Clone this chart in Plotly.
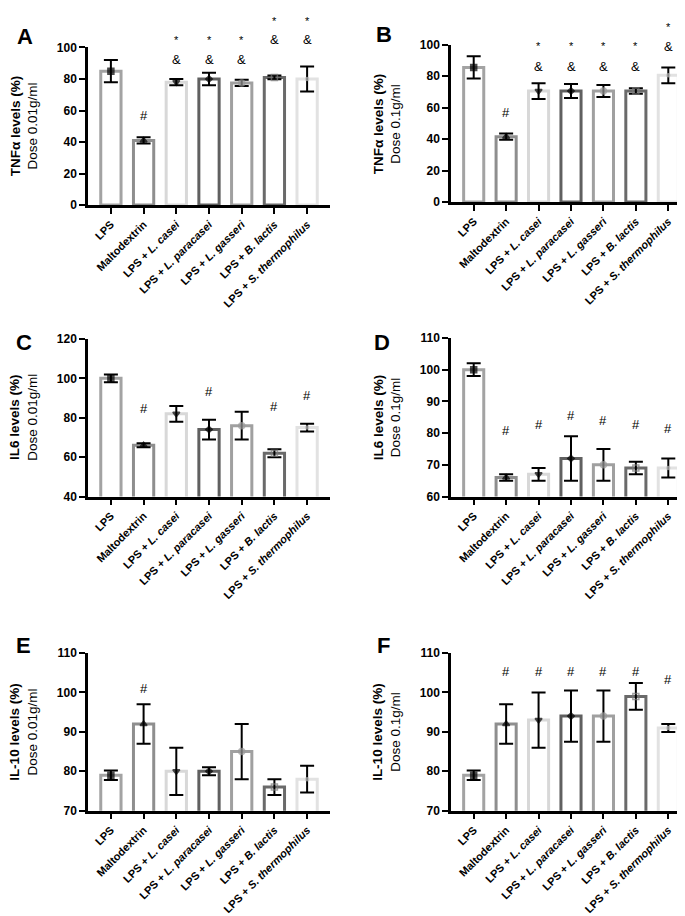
import plotly.graph_objects as go

W, H = 685, 916

categories = ["LPS", "Maltodextrin", "LPS + <i>L. casei</i>", "LPS + <i>L. paracasei</i>",
              "LPS + <i>L. gasseri</i>", "LPS + <i>B. lactis</i>", "LPS + <i>S. thermophilus</i>"]

# panel values (mean, error)
tnf_001 = [85, 41, 78, 80, 77.5, 81, 80]
tnf_001_err = [7, 2, 2, 4, 2, 1.2, 8]
tnf_01 = [85.5, 41.5, 70.5, 70.5, 70.5, 70.5, 80.5]
tnf_01_err = [7, 2, 5, 4.5, 3.8, 1.7, 5]
il6_001 = [100, 66, 82, 74, 76, 62, 75]
il6_001_err = [2, 1, 4, 5, 7, 2, 2]
il6_01 = [100, 66, 67, 72, 70, 69, 69]
il6_01_err = [2, 1, 2, 7, 5, 2, 3]
il10_001 = [79, 92, 80, 80, 85, 76, 78]
il10_001_err = [1.2, 5, 6, 1, 7, 2, 3.4]
il10_01 = [79, 92, 93, 94, 94, 99, 91]
il10_01_err = [1.2, 5, 7, 6.5, 6.5, 3.4, 1]

# significance marks: (category index, y value, text)
sig_A = [(1, 57, "#"), (2, 105, "*"), (2, 92.5, "&"), (3, 105, "*"), (3, 92.5, "&"),
         (4, 105, "*"), (4, 92.5, "&"), (5, 117, "*"), (5, 105, "&"), (6, 117, "*"), (6, 105, "&")]
sig_B = [(1, 57, "#"), (2, 99, "*"), (2, 86, "&"), (3, 99, "*"), (3, 86, "&"),
         (4, 99, "*"), (4, 86, "&"), (5, 99, "*"), (5, 86, "&"), (6, 111, "*"), (6, 98.5, "&")]
sig_C = [(1, 84.5, "#"), (3, 93.5, "#"), (5, 85.5, "#"), (6, 91.5, "#")]
sig_D = [(1, 80.9, "#"), (2, 82.7, "#"), (3, 85.5, "#"), (4, 84, "#"), (5, 82.7, "#"), (6, 81.5, "#")]
sig_E = [(1, 101, "#")]
sig_F = [(1, 105.3, "#"), (2, 105.3, "#"), (3, 105.3, "#"), (4, 105.3, "#"), (5, 105.3, "#"), (6, 103.2, "#")]

bar_colors = ["#a3a3a3", "#8e8e8e", "#d8d8d8", "#606060", "#a0a0a0", "#6a6a6a", "#e2e2e2"]
mk_symbols = ["square", "triangle-up", "triangle-down", "diamond", "circle", "square-open", "circle"]
mk_colors = ["black", "black", "black", "black", "#9a9a9a", "#7a7a7a", "#bdbdbd"]
mk_sizes = [6, 6, 6, 5, 6, 6, 3]

panels = [
    dict(letter="A", vals=tnf_001, err=tnf_001_err, sig=sig_A, rng=[0, 100], dtick=20,
         title="<b>TNFα levels (%)</b><br>Dose 0.01g/ml", px=(80, 322), py=(33, 193), lpos=(17, 22)),
    dict(letter="B", vals=tnf_01, err=tnf_01_err, sig=sig_B, rng=[0, 100], dtick=20,
         title="<b>TNFα levels (%)</b><br>Dose 0.1g/ml", px=(443, 683), py=(30, 190), lpos=(376, 20)),
    dict(letter="C", vals=il6_001, err=il6_001_err, sig=sig_C, rng=[40, 120], dtick=20,
         title="<b>IL6 levels (%)</b><br>Dose 0.01g/ml", px=(80, 322), py=(329, 489), lpos=(16, 333)),
    dict(letter="D", vals=il6_01, err=il6_01_err, sig=sig_D, rng=[60, 110], dtick=10,
         title="<b>IL6 levels (%)</b><br>Dose 0.1g/ml", px=(443, 683), py=(328, 489), lpos=(374, 333)),
    dict(letter="E", vals=il10_001, err=il10_001_err, sig=sig_E, rng=[70, 110], dtick=10,
         title="<b>IL-10 levels (%)</b><br>Dose 0.01g/ml", px=(80, 322), py=(648, 808), lpos=(16, 640)),
    dict(letter="F", vals=il10_01, err=il10_01_err, sig=sig_F, rng=[70, 110], dtick=10,
         title="<b>IL-10 levels (%)</b><br>Dose 0.1g/ml", px=(443, 683), py=(648, 808), lpos=(375, 640)),
]

FONT = "Liberation Sans, Arial, sans-serif"
fig = go.Figure()
layout = dict(width=W, height=H, margin=dict(l=0, r=0, t=0, b=0),
              plot_bgcolor="white", paper_bgcolor="white", showlegend=False,
              font=dict(family=FONT, color="black"))
annotations = []

for i, p in enumerate(panels):
    n = "" if i == 0 else str(i + 1)
    xa, ya = "x" + n, "y" + n
    fig.add_trace(go.Bar(
        x=categories, y=p["vals"], xaxis=xa, yaxis=ya, width=0.62,
        marker=dict(color="white", line=dict(color=bar_colors, width=3)),
        hoverinfo="skip"))
    fig.add_trace(go.Scatter(
        x=categories, y=p["vals"], xaxis=xa, yaxis=ya, mode="markers",
        marker=dict(symbol=mk_symbols, color=mk_colors, size=mk_sizes,
                    line=dict(width=1.5, color=mk_colors)),
        error_y=dict(type="data", array=p["err"], color="black", thickness=2, width=7),
        cliponaxis=False))
    x0, x1 = p["px"]
    y0, y1 = p["py"]
    layout["xaxis" + n] = dict(
        domain=[x0 / W, x1 / W], anchor=ya, type="category", range=[-0.7, 6.7],
        showline=True, linecolor="black", linewidth=2.5, ticks="outside", ticklen=6,
        tickwidth=2, tickcolor="black", tickangle=-45, showgrid=False,
        tickfont=dict(size=11, family=FONT, weight="bold", color="black"))
    layout["yaxis" + n] = dict(
        domain=[1 - y1 / H, 1 - y0 / H], anchor=xa, range=p["rng"], dtick=p["dtick"],
        showline=True, linecolor="black", linewidth=2.5, ticks="outside", ticklen=6,
        tickwidth=2, tickcolor="black", showgrid=False, zeroline=False,
        tickfont=dict(size=12, family=FONT, weight="bold", color="black"))
    r0, r1 = p["rng"]
    # significance marks (placed in axis-domain units so marks above the range stay visible)
    for (ci, yv, t) in p["sig"]:
        annotations.append(dict(x=categories[ci], y=(yv - r0) / (r1 - r0), xref=xa,
                                yref=ya + " domain", text=t, showarrow=False,
                                xanchor="center", yanchor="middle",
                                font=dict(size=13 if t != "*" else 11, family=FONT)))
    # panel letter
    lx, ly = p["lpos"]
    annotations.append(dict(x=lx / W, y=1 - ly / H, xref="paper", yref="paper",
                            text="<b>" + p["letter"] + "</b>", showarrow=False,
                            xanchor="center", yanchor="middle",
                            font=dict(size=22, family=FONT)))
    # y-axis title
    tx = 16 if x0 < 200 else 379
    annotations.append(dict(x=tx / W, y=1 - ((y0 + y1) / 2) / H, xref="paper", yref="paper",
                            text=p["title"], textangle=-90, showarrow=False,
                            xanchor="center", yanchor="middle",
                            font=dict(size=13.5, family=FONT)))

layout["annotations"] = annotations
fig.update_layout(**layout)
fig.write_html("out.html")
